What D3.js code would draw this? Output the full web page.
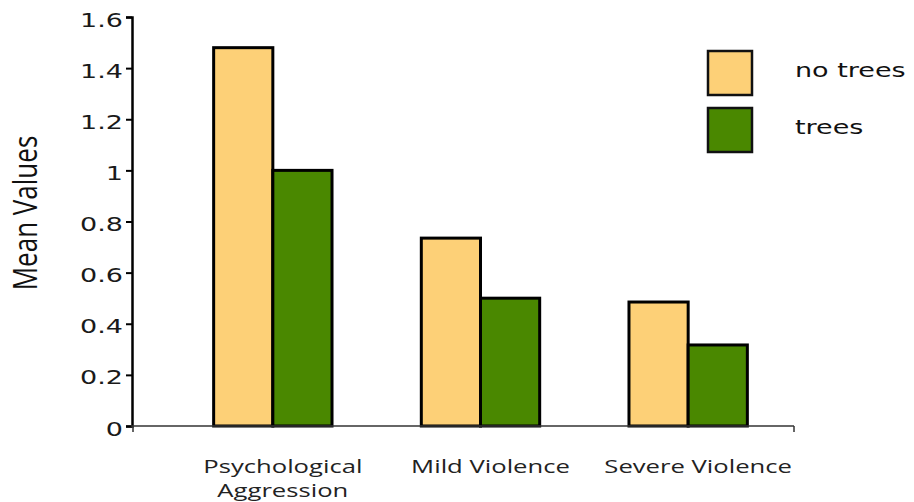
<!DOCTYPE html>
<html><head><meta charset="utf-8">
<script src="https://cdn.jsdelivr.net/npm/d3@7"></script>
<style>body{margin:0;background:#fff}</style>
</head><body>
<script>
const categories = [["Psychological","Aggression"],["Mild Violence"],["Severe Violence"]];
const seriesNames = ["no trees","trees"];
const noTrees = [1.48, 0.735, 0.485];
const trees = [1.0, 0.50, 0.317];
const yTicks = [0,0.2,0.4,0.6,0.8,1,1.2,1.4,1.6];
const colors = ["#FDD077","#4A8800"];

const W=914,H=502, SX=1.35;
const svg=d3.select("body").append("svg").attr("width",W).attr("height",H);
const y=d3.scaleLinear().domain([0,1.6]).range([426,17]);
const x0=d3.scaleBand().domain(d3.range(categories.length)).range([169,792]).paddingInner(0.43).paddingOuter(0.215);
const x1=d3.scaleBand().domain(d3.range(2)).range([0,x0.bandwidth()]);
const data=[noTrees,trees];

// bars
const g=svg.append("g");
categories.forEach((c,i)=>{
  data.forEach((s,j)=>{
    g.append("rect").attr("x",x0(i)+x1(j)).attr("y",y(s[i])).attr("width",x1.bandwidth()).attr("height",y(0)-y(s[i]))
     .attr("fill",colors[j]).attr("stroke","#000").attr("stroke-width",3);
  });
});

// y axis
const ya=svg.append("g").attr("transform","translate(132,0)").call(d3.axisLeft(y).tickValues(yTicks).tickSize(6).tickPadding(6).tickFormat(d=>String(d)));
ya.select(".domain").attr("stroke","#000").attr("stroke-width",2.5);
ya.selectAll(".tick line").attr("stroke","#000").attr("stroke-width",2);
ya.selectAll("text").attr("font-family","DejaVu Sans").attr("font-size",20).attr("fill","#1a1a1a")
  .attr("x",-9/SX).attr("dy","0.45em").attr("transform",`scale(${SX},1)`);

// x axis line
svg.append("line").attr("x1",131).attr("x2",794).attr("y1",y(0)).attr("y2",y(0)).attr("stroke","#333").attr("stroke-width",1.5);
svg.append("line").attr("x1",794).attr("x2",794).attr("y1",y(0)).attr("y2",y(0)+6).attr("stroke","#333").attr("stroke-width",1.5);
svg.append("line").attr("x1",133).attr("x2",133).attr("y1",y(0)).attr("y2",y(0)+6).attr("stroke","#333").attr("stroke-width",1.5);

// category labels
categories.forEach((c,i)=>{
  const cx=x0(i)+x0.bandwidth()/2+10;
  const t=svg.append("text").attr("transform",`translate(${cx},0) scale(${SX},1)`).attr("text-anchor","middle")
    .attr("font-family","Open Sans").attr("font-size",19).attr("fill","#222");
  c.forEach((line,k)=>{
    t.append("tspan").attr("x",0).attr("y",473+k*24).text(line);
  });
});

// y title
svg.append("text").attr("transform",`translate(37,213) scale(1.28,1) rotate(-90)`).attr("text-anchor","middle")
  .attr("font-family","Open Sans").attr("font-size",26).attr("fill","#111").text("Mean Values");

// legend
seriesNames.forEach((n,j)=>{
  svg.append("rect").attr("x",708).attr("y",51+j*57).attr("width",44).attr("height",44).attr("fill",colors[j]).attr("stroke","#111").attr("stroke-width",2.5);
  svg.append("text").attr("transform",`translate(795,${77+j*57}) scale(${SX},1)`).attr("font-family","DejaVu Sans").attr("font-size",20).attr("fill","#111").text(n);
});
</script>
</body></html>
